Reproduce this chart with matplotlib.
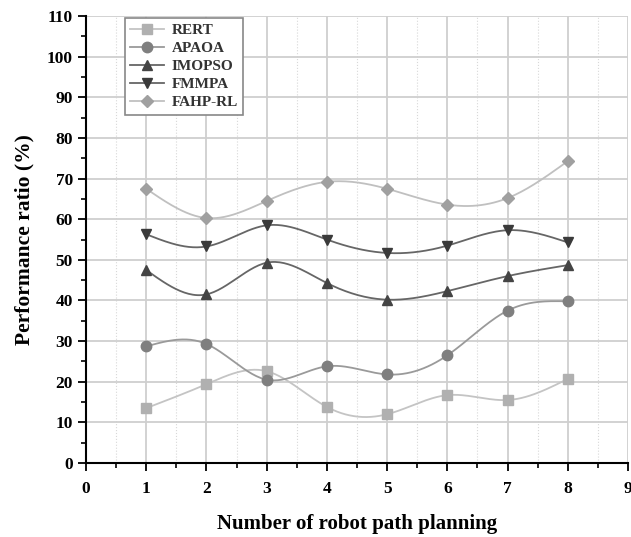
import numpy as np
import matplotlib.pyplot as plt
from matplotlib.ticker import MultipleLocator

runs = [1, 2, 3, 4, 5, 6, 7, 8]
rert = [13.5, 19.4, 22.6, 13.8, 12.0, 16.7, 15.5, 20.7]
apaoa = [28.7, 29.3, 20.5, 23.8, 21.8, 26.5, 37.5, 39.8]
imopso = [47.5, 41.5, 49.3, 44.3, 40.2, 42.3, 46.0, 48.7]
fmmpa = [56.3, 53.3, 58.5, 55.0, 51.7, 53.5, 57.3, 54.3]
fahp_rl = [67.5, 60.3, 64.5, 69.2, 67.5, 63.6, 65.2, 74.3]


def smooth(x, y, n=200):
    # natural cubic spline through the points, only for drawing the curve
    x = np.asarray(x, float)
    y = np.asarray(y, float)
    k = len(x)
    h = np.diff(x)
    A = np.zeros((k, k))
    b = np.zeros(k)
    A[0, 0] = A[-1, -1] = 1
    for i in range(1, k - 1):
        A[i, i - 1] = h[i - 1]
        A[i, i] = 2 * (h[i - 1] + h[i])
        A[i, i + 1] = h[i]
        b[i] = 6 * ((y[i + 1] - y[i]) / h[i] - (y[i] - y[i - 1]) / h[i - 1])
    m = np.linalg.solve(A, b)
    xs = np.linspace(x[0], x[-1], n)
    idx = np.clip(np.searchsorted(x, xs) - 1, 0, k - 2)
    t0 = xs - x[idx]
    t1 = x[idx + 1] - xs
    hi = h[idx]
    ys = (m[idx] * t1 ** 3 / (6 * hi) + m[idx + 1] * t0 ** 3 / (6 * hi)
          + (y[idx] / hi - m[idx] * hi / 6) * t1
          + (y[idx + 1] / hi - m[idx + 1] * hi / 6) * t0)
    return xs, ys


plt.rcParams['font.family'] = ['Liberation Serif', 'DejaVu Serif']
plt.rcParams['font.weight'] = 'bold'

fig = plt.figure(figsize=(6.31, 5.37), dpi=100)
ax = fig.add_axes([0.1363, 0.1378, 0.8589, 0.8322])

series = [
    ('RERT', rert, 's', '#b0b0b0', '#c4c4c4'),
    ('APAOA', apaoa, 'o', '#7f7f7f', '#9a9a9a'),
    ('IMOPSO', imopso, '^', '#444444', '#666666'),
    ('FMMPA', fmmpa, 'v', '#3a3a3a', '#666666'),
    ('FAHP-RL', fahp_rl, 'D', '#a0a0a0', '#c0c0c0'),
]
for name, vals, mk, mc, lc in series:
    xs, ys = smooth(runs, vals)
    ms = 7.5 if mk != 'D' else 6.5
    ax.plot(xs, ys, color=lc, lw=1.3, zorder=3)
    ax.plot(runs, vals, linestyle='none', marker=mk, color=mc, markersize=ms, zorder=4)
    ax.plot([], [], color=lc, lw=1.3, marker=mk, markerfacecolor=mc,
            markeredgecolor=mc, markersize=ms, label=name)

ax.set_xlim(0, 9)
ax.set_ylim(0, 110)
ax.xaxis.set_major_locator(MultipleLocator(1))
ax.xaxis.set_minor_locator(MultipleLocator(0.5))
ax.yaxis.set_major_locator(MultipleLocator(10))
ax.yaxis.set_minor_locator(MultipleLocator(5))

ax.grid(which='major', color='#cfcfcf', lw=1.3, zorder=0)
ax.grid(which='minor', axis='x', color='#d8d8d8', lw=0.8, linestyle=':', zorder=0)

ax.spines['top'].set_visible(False)
ax.spines['right'].set_visible(False)
ax.spines['left'].set_linewidth(1.5)
ax.spines['bottom'].set_linewidth(1.5)
ax.tick_params(which='major', direction='out', length=6, width=1.3, labelsize=12.5)
ax.tick_params(which='minor', direction='out', length=3.5, width=1.2)
ax.tick_params(axis='x', pad=7)

ax.set_xlabel('Number of robot path planning', fontsize=15, fontweight='bold', labelpad=12)
ax.set_ylabel('Performance ratio (%)', fontsize=15.5, fontweight='bold', labelpad=9)

leg = ax.legend(loc='upper left', bbox_to_anchor=(0.072, 0.995), borderaxespad=0,
                fontsize=11, handlelength=2.2, fancybox=False, framealpha=1,
                edgecolor='#888888', borderpad=0.35, labelspacing=0.28,
                handletextpad=0.5)
leg.get_frame().set_linewidth(1.2)
for t in leg.get_texts():
    t.set_fontweight('bold')
    t.set_color('#333333')

fig.savefig('out.png', dpi=100)
